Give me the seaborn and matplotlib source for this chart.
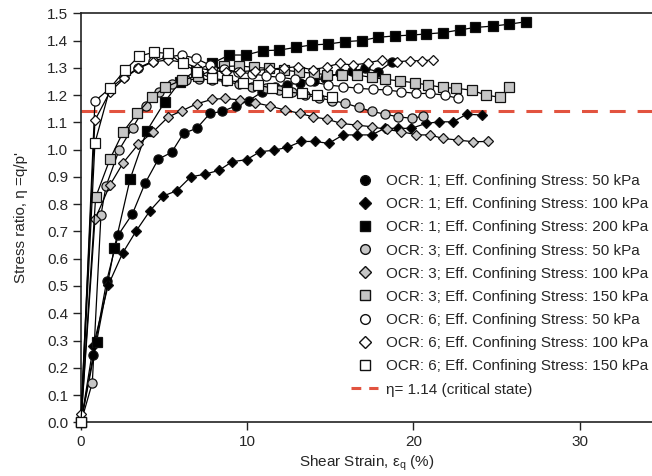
import matplotlib
matplotlib.use("Agg")
import matplotlib.pyplot as plt
from matplotlib.lines import Line2D
import seaborn as sns
import pandas as pd

# ---- data ----
labels = [
    "OCR: 1; Eff. Confining Stress: 50 kPa",
    "OCR: 1; Eff. Confining Stress: 100 kPa",
    "OCR: 1; Eff. Confining Stress: 200 kPa",
    "OCR: 3; Eff. Confining Stress: 50 kPa",
    "OCR: 3; Eff. Confining Stress: 100 kPa",
    "OCR: 3; Eff. Confining Stress: 150 kPa",
    "OCR: 6; Eff. Confining Stress: 50 kPa",
    "OCR: 6; Eff. Confining Stress: 100 kPa",
    "OCR: 6; Eff. Confining Stress: 150 kPa",
]

x_o1_50 = [0, 0.74, 1.55, 2.24, 3.09, 3.85, 4.65, 5.45, 6.17, 6.96, 7.76, 8.5, 9.3, 10.1, 10.9, 11.67, 12.4, 13.17, 14.0, 14.7, 15.57, 16.28, 17.08, 17.88, 18.7]
y_o1_50 = [0, 0.247, 0.52, 0.687, 0.764, 0.876, 0.965, 0.99, 1.06, 1.078, 1.133, 1.14, 1.16, 1.18, 1.212, 1.228, 1.238, 1.245, 1.253, 1.262, 1.28, 1.288, 1.298, 1.286, 1.322]

x_o1_100 = [0, 0.74, 1.64, 2.5, 3.3, 4.15, 4.95, 5.75, 6.6, 7.46, 8.3, 9.1, 9.96, 10.76, 11.6, 12.4, 13.25, 14.07, 14.9, 15.77, 16.58, 17.48, 18.28, 19.08, 19.88, 20.74, 21.55, 22.38, 23.2, 24.1]
y_o1_100 = [0, 0.28, 0.503, 0.62, 0.70, 0.776, 0.83, 0.849, 0.90, 0.91, 0.924, 0.956, 0.963, 0.992, 0.998, 1.008, 1.03, 1.03, 1.023, 1.054, 1.054, 1.054, 1.078, 1.078, 1.078, 1.096, 1.102, 1.102, 1.13, 1.127]

x_o1_200 = [0, 0.94, 2.0, 2.95, 3.95, 5.05, 5.95, 6.91, 7.86, 8.92, 9.92, 10.93, 11.92, 12.93, 13.87, 14.85, 15.88, 16.88, 17.88, 18.88, 19.83, 20.74, 21.78, 22.79, 23.7, 24.76, 25.75, 26.75]
y_o1_200 = [0, 0.296, 0.638, 0.891, 1.068, 1.176, 1.249, 1.29, 1.316, 1.347, 1.347, 1.363, 1.365, 1.375, 1.384, 1.387, 1.396, 1.40, 1.412, 1.417, 1.42, 1.424, 1.429, 1.439, 1.448, 1.453, 1.46, 1.469]

x_o3_50 = [0, 0.68, 1.2, 1.5, 2.3, 3.1, 3.9, 4.7, 5.5, 6.3, 7.1, 7.9, 8.7, 9.5, 10.3, 11.1, 11.9, 12.7, 13.5, 14.3, 15.1, 15.9, 16.7, 17.5, 18.3, 19.1, 19.9, 20.6]
y_o3_50 = [0, 0.145, 0.76, 0.865, 1.0, 1.08, 1.16, 1.21, 1.24, 1.255, 1.26, 1.255, 1.25, 1.24, 1.23, 1.225, 1.22, 1.21, 1.2, 1.19, 1.18, 1.17, 1.155, 1.14, 1.13, 1.12, 1.115, 1.123]

x_o3_100 = [0, 0.84, 1.74, 2.54, 3.45, 4.35, 5.25, 6.05, 6.96, 7.86, 8.66, 9.56, 10.46, 11.37, 12.27, 13.17, 13.97, 14.77, 15.67, 16.58, 17.48, 18.38, 19.28, 20.18, 20.98, 21.78, 22.68, 23.6, 24.5]
y_o3_100 = [0, 0.744, 0.87, 0.952, 1.02, 1.066, 1.12, 1.142, 1.168, 1.184, 1.188, 1.182, 1.172, 1.16, 1.145, 1.133, 1.12, 1.112, 1.096, 1.09, 1.084, 1.074, 1.066, 1.054, 1.054, 1.041, 1.035, 1.029, 1.03]

x_o3_150 = [0, 0.88, 1.74, 2.54, 3.39, 4.25, 5.05, 6.05, 7.05, 7.86, 8.6, 9.5, 10.4, 11.3, 12.2, 13.1, 14.0, 14.8, 15.7, 16.58, 17.48, 18.3, 19.18, 20.08, 20.88, 21.78, 22.58, 23.5, 24.36, 25.2, 25.75]
y_o3_150 = [0, 0.825, 0.965, 1.066, 1.133, 1.192, 1.228, 1.255, 1.27, 1.29, 1.305, 1.307, 1.302, 1.298, 1.292, 1.285, 1.28, 1.275, 1.275, 1.274, 1.265, 1.258, 1.252, 1.245, 1.237, 1.228, 1.225, 1.218, 1.2, 1.192, 1.228]

x_o6_50 = [0, 0.84, 1.74, 2.6, 3.45, 4.35, 5.2, 6.05, 6.9, 7.75, 8.6, 9.45, 10.3, 11.15, 12.0, 12.9, 13.8, 14.87, 15.77, 16.67, 17.58, 18.38, 19.28, 20.18, 20.98, 21.88, 22.68]
y_o6_50 = [0, 1.178, 1.225, 1.265, 1.30, 1.325, 1.34, 1.347, 1.335, 1.31, 1.295, 1.285, 1.278, 1.27, 1.265, 1.258, 1.25, 1.237, 1.231, 1.225, 1.221, 1.219, 1.212, 1.206, 1.206, 1.2, 1.188]

x_o6_100 = [0, 0.84, 1.74, 2.59, 3.45, 4.35, 5.25, 6.15, 7.0, 7.9, 8.75, 9.56, 10.46, 11.37, 12.2, 13.07, 13.97, 14.77, 15.57, 16.37, 17.28, 18.08, 18.98, 19.78, 20.5, 21.18]
y_o6_100 = [0.03, 1.108, 1.212, 1.261, 1.298, 1.322, 1.329, 1.32, 1.30, 1.29, 1.285, 1.286, 1.29, 1.295, 1.30, 1.304, 1.292, 1.304, 1.316, 1.31, 1.318, 1.329, 1.322, 1.326, 1.326, 1.329]

x_o6_150 = [0, 0.84, 1.74, 2.65, 3.5, 4.39, 5.25, 6.11, 7.0, 7.86, 8.76, 9.76, 10.66, 11.5, 12.37, 13.27, 14.17, 15.07]
y_o6_150 = [0, 1.025, 1.225, 1.292, 1.343, 1.357, 1.353, 1.316, 1.285, 1.261, 1.255, 1.245, 1.237, 1.225, 1.212, 1.206, 1.2, 1.192]

critical_eta = 1.14
critical_label = "η= 1.14 (critical state)"

xs = [x_o1_50, x_o1_100, x_o1_200, x_o3_50, x_o3_100, x_o3_150, x_o6_50, x_o6_100, x_o6_150]
ys = [y_o1_50, y_o1_100, y_o1_200, y_o3_50, y_o3_100, y_o3_150, y_o6_50, y_o6_100, y_o6_150]

markers = ["o", "D", "s", "o", "D", "s", "o", "D", "s"]
fills = ["black", "black", "black", "#c6c6c6", "#c6c6c6", "#c6c6c6", "white", "white", "white"]

frames = []
for lab, xv, yv in zip(labels, xs, ys):
    frames.append(pd.DataFrame({"strain": xv, "eta": yv, "series": lab}))
df = pd.concat(frames, ignore_index=True)

sns.set_theme(style="ticks")
plt.rcParams["font.family"] = ["Liberation Sans", "DejaVu Sans"]
plt.rcParams["mathtext.fontset"] = "custom"
plt.rcParams["mathtext.rm"] = "Liberation Sans"

fig = plt.figure(figsize=(6.52, 4.76), dpi=100)
ax = fig.add_axes([81 / 652, (476 - 422.3) / 476, 571 / 652, 409 / 476])

red = "#e2533f"
ax.axhline(critical_eta, color=red, lw=2.2, ls=(0, (5.2, 3.9)), zorder=1)

for i, lab in enumerate(labels):
    sub = df[df["series"] == lab]
    ms = 6.6 if markers[i] != "D" else 5.6
    sns.lineplot(data=sub, x="strain", y="eta", ax=ax, color="black", lw=0.9,
                 marker=markers[i], markersize=ms, markerfacecolor=fills[i],
                 markeredgecolor="#111111", markeredgewidth=0.9,
                 errorbar=None, sort=False, legend=False, clip_on=False, zorder=3)

ax.set_xlim(0, 34.35)
ax.set_ylim(0, 1.5)
ax.set_xticks([0, 10, 20, 30])
ax.set_yticks([i / 10 for i in range(16)])
ax.set_yticklabels([f"{i/10:.1f}" for i in range(16)])
ax.tick_params(axis="both", labelsize=11, length=6, width=1, color="#222222", pad=3)
for side in ["left", "bottom", "top"]:
    ax.spines[side].set_visible(True)
    ax.spines[side].set_color("#222222")
    ax.spines[side].set_linewidth(1.2)
ax.spines["right"].set_visible(False)

ax.set_xlabel("Shear Strain, ε$_\\mathregular{q}$ (%)", fontsize=11)
ax.set_ylabel("Stress ratio, η =q/p'", fontsize=11)
ax.xaxis.set_label_coords(0.5, -0.075)
ax.yaxis.set_label_coords(-0.092, 0.5)

handles = []
for i in range(9):
    ms = 7 if markers[i] != "D" else 6
    handles.append(Line2D([], [], ls="none", marker=markers[i], markersize=ms,
                          markerfacecolor=fills[i], markeredgecolor="#111111", markeredgewidth=1.0))
handles.append(Line2D([], [], color=red, lw=2.2, ls=(0, (3.2, 2.6))))
leg = ax.legend(handles, labels + [critical_label], loc="upper left",
                bbox_to_anchor=(0.462, 0.622), frameon=False, fontsize=11,
                handlelength=1.8, handletextpad=0.5, labelspacing=0.6,
                borderaxespad=0)

fig.savefig("out.png", dpi=100)
